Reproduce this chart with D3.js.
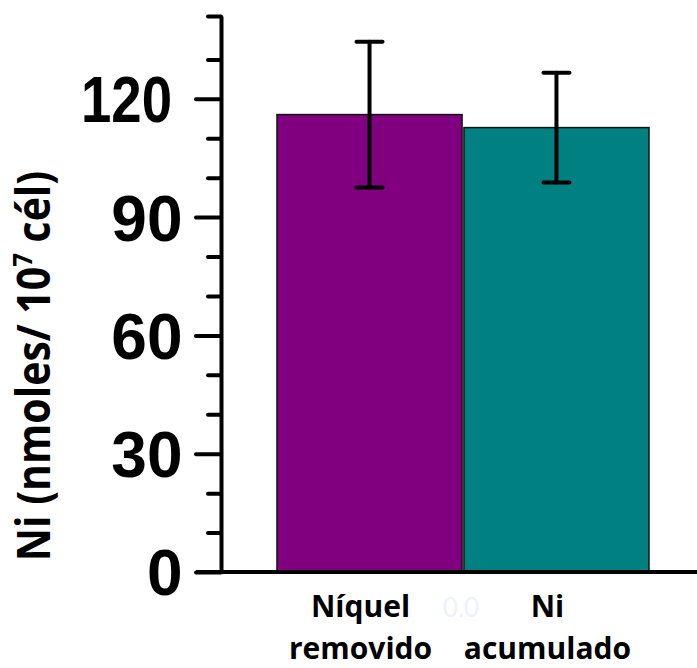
<!DOCTYPE html>
<html>
<head>
<meta charset="utf-8">
<script src="https://cdn.jsdelivr.net/npm/d3@7"></script>
<style>
  html, body { margin: 0; padding: 0; background: #fff; }
  svg { display: block; }
</style>
</head>
<body>
<svg id="chart" width="697" height="668"></svg>
<script>
// Nickel removed vs. accumulated (nmol per 10^7 cells), mean ± SD
const categories = ["Níquel removido", "Ni acumulado"];
const categoryLines = [["Níquel", "removido"], ["Ni", "acumulado"]];
const means = [116.0, 112.7];
const errors = [18.5, 13.9];
const colors = ["#800080", "#008080"];
const majorTicks = [0, 30, 60, 90, 120];
const minorTicks = [10, 20, 40, 50, 70, 80, 100, 110, 130, 141];
const yMax = 141;

const svg = d3.select("#chart");

const y = d3.scaleLinear().domain([0, yMax]).range([572, 16]);
const x = d3.scaleBand().domain(categories).range([277, 649])
  .paddingInner(0.01).paddingOuter(0);

const axisX = 221;

// bars
svg.append("g").selectAll("rect")
  .data(categories)
  .join("rect")
  .attr("x", d => x(d))
  .attr("y", (d, i) => y(means[i]))
  .attr("width", x.bandwidth())
  .attr("height", (d, i) => y(0) - y(means[i]))
  .attr("fill", (d, i) => colors[i])
  .attr("stroke", "#111")
  .attr("stroke-width", 1.5);

// error bars
const eb = svg.append("g").attr("stroke", "#000").attr("stroke-width", 4)
  .attr("stroke-linecap", "round");
categories.forEach((c, i) => {
  const cx = x(c) + x.bandwidth() / 2;
  const hi = y(means[i] + errors[i]);
  const lo = y(means[i] - errors[i]);
  eb.append("line").attr("x1", cx).attr("x2", cx).attr("y1", hi).attr("y2", lo);
  eb.append("line").attr("x1", cx - 13).attr("x2", cx + 13).attr("y1", hi).attr("y2", hi);
  eb.append("line").attr("x1", cx - 13).attr("x2", cx + 13).attr("y1", lo).attr("y2", lo);
});

// x axis baseline
svg.append("line")
  .attr("x1", 196).attr("x2", 697)
  .attr("y1", y(0)).attr("y2", y(0))
  .attr("stroke", "#000").attr("stroke-width", 4);

// minor ticks
const minorAxis = svg.append("g")
  .attr("transform", `translate(${axisX},0)`)
  .call(d3.axisLeft(y).tickValues(minorTicks).tickSize(13).tickSizeOuter(0).tickFormat(""));
minorAxis.select(".domain").remove();

// major ticks + labels
const majorAxis = svg.append("g")
  .attr("transform", `translate(${axisX},0)`)
  .call(d3.axisLeft(y).tickValues(majorTicks).tickSize(25).tickSizeOuter(0)
    .tickFormat(d3.format("d")));

svg.selectAll(".tick line")
  .attr("stroke", "#000").attr("stroke-width", 4).attr("stroke-linecap", "round");
majorAxis.select(".domain")
  .attr("stroke", "#000").attr("stroke-width", 4);

majorAxis.selectAll(".tick text")
  .attr("font-family", "'Liberation Sans', Arial, sans-serif")
  .attr("font-weight", "bold")
  .attr("font-size", 64)
  .attr("fill", "#000")
  .attr("dy", "0.358em")
  .attr("x", d => String(d).length > 2 ? -49 : -38.5)
  .each(function (d) {
    // three-digit label is set condensed to fit beside the axis
    if (String(d).length > 2) {
      d3.select(this).attr("textLength", 91).attr("lengthAdjust", "spacingAndGlyphs");
    }
  });

// category labels
const catG = svg.append("g")
  .attr("font-family", "'Open Sans', Lato, sans-serif")
  .attr("font-weight", "bold")
  .attr("font-size", 30)
  .attr("text-anchor", "middle")
  .attr("fill", "#000");
categories.forEach((c, i) => {
  const cx = x(c) + x.bandwidth() / 2 - 9;
  categoryLines[i].forEach((ln, j) => {
    catG.append("text").attr("x", cx).attr("y", 617 + j * 42).text(ln);
  });
});

// faint value marker between the categories
svg.append("text")
  .attr("x", 461).attr("y", 617)
  .attr("text-anchor", "middle")
  .attr("font-family", "Lato, sans-serif")
  .attr("font-size", 26)
  .attr("fill", "#edf1ff")
  .text("0.0");

// y axis title
const title = svg.append("text")
  .attr("transform", "translate(50,366) rotate(-90) scale(1,1.12)")
  .attr("text-anchor", "middle")
  .attr("font-family", "'Open Sans', Lato, sans-serif")
  .attr("font-weight", "bold")
  .attr("font-size", 41)
  .attr("fill", "#000");
title.append("tspan").text("Ni (nmoles/ 10");
title.append("tspan").attr("baseline-shift", "super").attr("font-size", 24).text("7");
title.append("tspan").text(" cél)");
</script>
</body>
</html>
